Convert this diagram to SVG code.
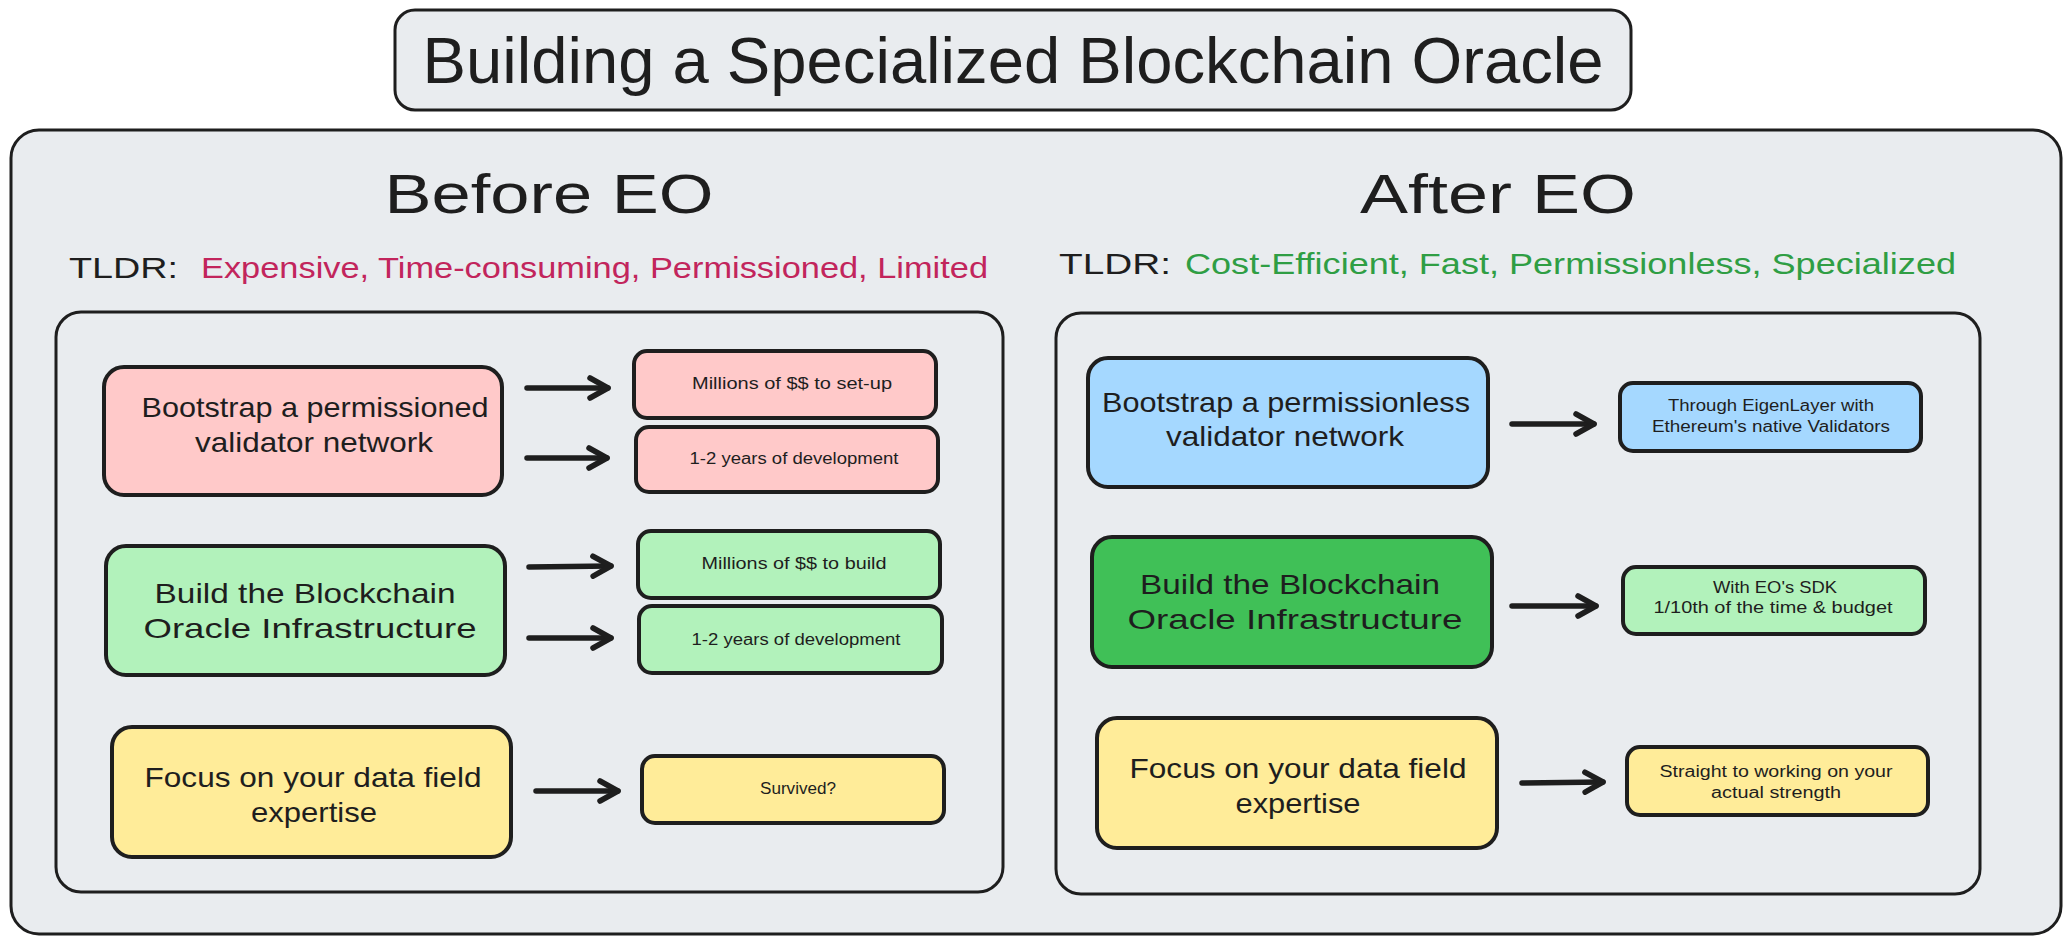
<svg xmlns="http://www.w3.org/2000/svg" width="2072" height="943" viewBox="0 0 2072 943">
<style>
  text { font-family: "Liberation Sans", Arial, sans-serif; fill: #1e1e1e; }
  .panel { fill: #e9ecef; stroke: #1e1e1e; stroke-width: 3; }
  .node { stroke: #1e1e1e; stroke-width: 4; }
  .pink { fill: #ffc9c9; }
  .lgreen { fill: #b2f2bb; }
  .blue { fill: #a5d8ff; }
  .yellow { fill: #ffec99; }
  .dgreen { fill: #40c057; }
  .big { font-size: 28px; text-anchor: middle; }
  .small { font-size: 16px; text-anchor: middle; }
  .arrow { stroke: #1e1e1e; stroke-width: 5.5; fill: none; stroke-linecap: round; marker-end: url(#head); }
</style>
<defs>
  <marker id="head" viewBox="0 0 26 26" refX="22" refY="13" markerWidth="26" markerHeight="26" markerUnits="userSpaceOnUse" orient="auto">
    <path d="M4,3 L22,13 L4,23" fill="none" stroke="#1e1e1e" stroke-width="5.5" stroke-linecap="round" stroke-linejoin="round"/>
  </marker>
</defs>
<rect width="2072" height="943" fill="#ffffff"/>

<g id="title">
  <rect class="panel" x="395" y="10" width="1236" height="100" rx="20"/>
  <text x="1013" y="83" font-size="64" text-anchor="middle" textLength="1181" lengthAdjust="spacingAndGlyphs">Building a Specialized Blockchain Oracle</text>
</g>

<g id="outer">
  <rect class="panel" x="11" y="130" width="2050" height="804" rx="28"/>
</g>

<g id="before-header">
  <text x="549" y="213" font-size="56" text-anchor="middle" textLength="329" lengthAdjust="spacingAndGlyphs">Before EO</text>
  <text x="69" y="278" font-size="30" textLength="109" lengthAdjust="spacingAndGlyphs">TLDR:</text>
  <text x="201" y="278" font-size="30" style="fill:#c2255c" textLength="787" lengthAdjust="spacingAndGlyphs">Expensive, Time-consuming, Permissioned, Limited</text>
</g>

<g id="after-header">
  <text x="1498" y="213" font-size="56" text-anchor="middle" textLength="276" lengthAdjust="spacingAndGlyphs">After EO</text>
  <text x="1059" y="274" font-size="30" textLength="112" lengthAdjust="spacingAndGlyphs">TLDR:</text>
  <text x="1185" y="274" font-size="30" style="fill:#2f9e44" textLength="771" lengthAdjust="spacingAndGlyphs">Cost-Efficient, Fast, Permissionless, Specialized</text>
</g>

<g id="before-panel">
  <rect class="panel" x="56" y="312" width="947" height="580" rx="25"/>
</g>
<g id="after-panel">
  <rect class="panel" x="1056" y="313" width="924" height="581" rx="25"/>
</g>

<!-- Before nodes -->
<g id="b-bootstrap">
  <rect class="node pink" x="104" y="367" width="398" height="128" rx="20"/>
  <text class="big" x="315" y="417" textLength="347" lengthAdjust="spacingAndGlyphs">Bootstrap a permissioned</text>
  <text class="big" x="314" y="452" textLength="238" lengthAdjust="spacingAndGlyphs">validator network</text>
</g>
<g id="b-setup">
  <rect class="node pink" x="634" y="351" width="302" height="67" rx="13"/>
  <text class="small" x="792" y="389" textLength="200" lengthAdjust="spacingAndGlyphs">Millions of $$ to set-up</text>
</g>
<g id="b-years1">
  <rect class="node pink" x="636" y="427" width="302" height="65" rx="13"/>
  <text class="small" x="794" y="464" textLength="209" lengthAdjust="spacingAndGlyphs">1-2 years of development</text>
</g>
<g id="b-build">
  <rect class="node lgreen" x="106" y="546" width="399" height="129" rx="20"/>
  <text class="big" x="305" y="603" textLength="301" lengthAdjust="spacingAndGlyphs">Build the Blockchain</text>
  <text class="big" x="310" y="638" textLength="333" lengthAdjust="spacingAndGlyphs">Oracle Infrastructure</text>
</g>
<g id="b-build-cost">
  <rect class="node lgreen" x="638" y="531" width="302" height="67" rx="13"/>
  <text class="small" x="794" y="569" textLength="185" lengthAdjust="spacingAndGlyphs">Millions of $$ to build</text>
</g>
<g id="b-years2">
  <rect class="node lgreen" x="639" y="606" width="303" height="67" rx="13"/>
  <text class="small" x="796" y="645" textLength="209" lengthAdjust="spacingAndGlyphs">1-2 years of development</text>
</g>
<g id="b-focus">
  <rect class="node yellow" x="112" y="727" width="399" height="130" rx="20"/>
  <text class="big" x="313" y="787" textLength="337" lengthAdjust="spacingAndGlyphs">Focus on your data field</text>
  <text class="big" x="314" y="822" textLength="126" lengthAdjust="spacingAndGlyphs">expertise</text>
</g>
<g id="b-survived">
  <rect class="node yellow" x="642" y="756" width="302" height="67" rx="13"/>
  <text class="small" x="798" y="794" textLength="76" lengthAdjust="spacingAndGlyphs">Survived?</text>
</g>

<!-- After nodes -->
<g id="a-bootstrap">
  <rect class="node blue" x="1088" y="358" width="400" height="129" rx="20"/>
  <text class="big" x="1286" y="412" textLength="368" lengthAdjust="spacingAndGlyphs">Bootstrap a permissionless</text>
  <text class="big" x="1285" y="446" textLength="238" lengthAdjust="spacingAndGlyphs">validator network</text>
</g>
<g id="a-eigen">
  <rect class="node blue" x="1620" y="383" width="301" height="68" rx="13"/>
  <text class="small" x="1771" y="411" textLength="206" lengthAdjust="spacingAndGlyphs">Through EigenLayer with</text>
  <text class="small" x="1771" y="432" textLength="238" lengthAdjust="spacingAndGlyphs">Ethereum's native Validators</text>
</g>
<g id="a-build">
  <rect class="node dgreen" x="1092" y="537" width="400" height="130" rx="20"/>
  <text class="big" x="1290" y="594" textLength="300" lengthAdjust="spacingAndGlyphs">Build the Blockchain</text>
  <text class="big" x="1295" y="629" textLength="335" lengthAdjust="spacingAndGlyphs">Oracle Infrastructure</text>
</g>
<g id="a-sdk">
  <rect class="node lgreen" x="1623" y="567" width="302" height="67" rx="13"/>
  <text class="small" x="1775" y="593" textLength="124" lengthAdjust="spacingAndGlyphs">With EO's SDK</text>
  <text class="small" x="1773" y="613" textLength="239" lengthAdjust="spacingAndGlyphs">1/10th of the time &amp; budget</text>
</g>
<g id="a-focus">
  <rect class="node yellow" x="1097" y="718" width="400" height="130" rx="20"/>
  <text class="big" x="1298" y="778" textLength="337" lengthAdjust="spacingAndGlyphs">Focus on your data field</text>
  <text class="big" x="1298" y="813" textLength="125" lengthAdjust="spacingAndGlyphs">expertise</text>
</g>
<g id="a-strength">
  <rect class="node yellow" x="1627" y="747" width="301" height="68" rx="13"/>
  <text class="small" x="1776" y="777" textLength="233" lengthAdjust="spacingAndGlyphs">Straight to working on your</text>
  <text class="small" x="1776" y="798" textLength="130" lengthAdjust="spacingAndGlyphs">actual strength</text>
</g>

<g id="connectors">
  <path class="arrow" d="M527,388 L608,388"/>
  <path class="arrow" d="M527,458 L607,458"/>
  <path class="arrow" d="M529,567 L611,566"/>
  <path class="arrow" d="M529,638 L611,638"/>
  <path class="arrow" d="M536,791 L618,791"/>
  <path class="arrow" d="M1512,424 L1594,424"/>
  <path class="arrow" d="M1512,606 L1596,606"/>
  <path class="arrow" d="M1522,783 L1603,782"/>
</g>
</svg>
